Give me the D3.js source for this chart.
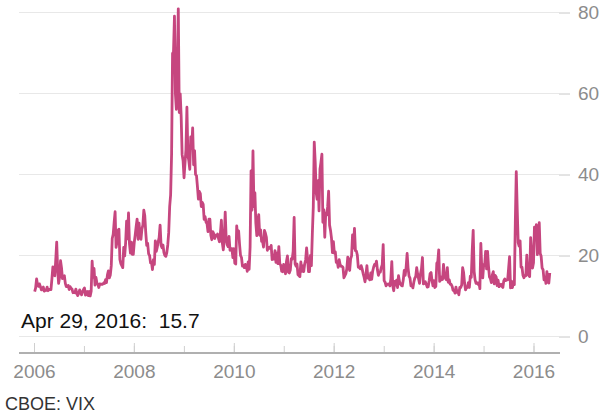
<!DOCTYPE html>
<html>
<head>
<meta charset="utf-8">
<script src="https://cdn.jsdelivr.net/npm/d3@7"></script>
<style>
  body { margin: 0; background: #fff; }
  svg text { font-family: "Liberation Sans", Arial, sans-serif; }
</style>
</head>
<body>
<div id="cont"></div>
<script>
// weekly VIX closes (Fridays)
var vix2006 = [11.1, 12.0, 14.2, 12.7, 12.4, 13.0, 12.3, 11.5, 11.9, 12.2, 11.2, 11.4, 11.4,
  12.2, 11.3, 11.6, 11.6, 11.6, 14.2, 17.2, 15.2, 15.0, 18.9, 23.3, 16.4, 13.1,
  14.6, 18.7, 17.0, 14.3, 14.8, 15.0, 13.1, 12.3, 12.3, 12.6, 11.6, 12.3, 11.9,
  11.7, 10.8, 10.9, 10.8, 11.7, 10.6, 10.1, 10.7, 11.5, 10.8, 10.3, 11.1, 11.6];
var vix2007 = [12.0, 10.2, 10.4, 11.1, 10.1, 11.1, 10.0, 11.2, 18.6, 14.6, 16.8, 12.7, 14.6,
  13.2, 12.9, 12.1, 13.0, 12.9, 12.9, 12.9, 13.2, 13.1, 14.0, 13.3, 15.2, 16.2,
  14.5, 15.2, 17.5, 24.2, 25.2, 28.2, 30.8, 22.0, 23.4, 26.2, 26.5, 19.0, 18.0,
  17.5, 17.0, 22.0, 19.9, 23.2, 28.5, 24.1, 30.5, 22.9, 20.6, 23.3, 20.3, 20.3];
var vix2008 = [23.2, 25.1, 27.2, 29.0, 24.0, 28.0, 25.0, 24.0, 26.5, 27.5, 31.2, 29.8, 25.7,
  22.5, 23.0, 20.4, 20.0, 18.2, 18.4, 16.5, 19.0, 17.8, 23.6, 21.0, 22.0, 23.4,
  24.4, 27.5, 22.5, 21.9, 22.6, 20.7, 20.0, 19.8, 20.7, 22.6, 25.7, 32.1, 35.0,
  45.1, 69.9, 70.3, 79.1, 59.9, 56.1, 66.3, 80.9, 55.3, 59.9, 54.3, 44.9, 43.4];
var vix2009 = [39.2, 42.8, 46.1, 56.6, 44.8, 43.4, 41.3, 49.3, 46.4, 51.5, 42.4, 45.9, 40.0,
  39.7, 37.0, 33.9, 35.8, 35.3, 32.1, 33.1, 32.6, 28.9, 29.6, 28.2, 27.9, 25.9,
  29.0, 29.0, 25.0, 23.9, 25.9, 25.4, 24.2, 25.0, 24.8, 25.3, 24.2, 23.4, 25.6,
  28.7, 23.1, 21.4, 24.1, 30.7, 24.2, 22.7, 22.2, 24.7, 21.3, 21.6, 21.7, 19.5];
var vix2010 = [21.7, 18.1, 17.9, 27.3, 24.6, 26.1, 22.7, 20.0, 19.5, 17.4, 17.6, 17.0, 17.8,
  17.5, 16.1, 18.4, 16.6, 22.1, 40.9, 31.2, 45.8, 32.1, 35.5, 28.0, 24.9, 28.5,
  30.1, 25.0, 26.3, 23.5, 23.5, 22.1, 26.2, 25.5, 24.5, 21.3, 22.0, 22.0, 21.7,
  22.5, 19.0, 19.1, 19.1, 21.2, 18.3, 20.6, 18.0, 22.2, 18.0, 17.6, 16.1, 16.0, 17.8];
var vix2011 = [17.1, 15.5, 18.5, 19.9, 15.9, 15.7, 16.4, 19.2, 19.1, 21.1, 29.4, 17.9,
  17.4, 17.9, 15.3, 15.0, 14.8, 18.4, 16.1, 17.4, 16.0, 17.9, 18.9, 21.9, 19.3,
  16.0, 16.0, 20.0, 17.5, 25.3, 32.0, 48.0, 43.1, 35.6, 33.9, 38.5, 31.0, 41.3, 43.0,
  45.0, 28.2, 31.3, 24.5, 30.5, 30.0, 32.0, 35.9, 27.5, 26.2, 24.3, 20.7, 23.4];
var vix2012 = [20.6, 20.9, 18.3, 18.5, 17.1, 19.0, 17.8, 17.3, 17.3, 17.1, 14.5, 15.0, 15.5,
  16.7, 19.6, 17.4, 16.3, 19.2, 19.9, 25.1, 21.8, 26.7, 21.2, 21.1, 20.1, 17.1,
  17.1, 16.7, 17.5, 16.7, 15.6, 14.7, 13.5, 15.2, 17.5, 14.4, 14.5, 14.0, 15.7,
  14.1, 16.1, 17.1, 17.8, 17.6, 18.6, 16.4, 15.1, 15.9, 15.9, 17.0, 17.7, 22.7];
var vix2013 = [13.8, 13.4, 12.5, 12.9, 12.9, 13.0, 12.5, 14.2, 18.5, 12.6, 11.3, 13.6, 12.7,
  13.9, 12.1, 15.0, 13.6, 12.9, 12.6, 12.5, 14.0, 16.3, 15.1, 17.2, 20.5, 16.9,
  14.9, 14.4, 12.5, 12.7, 12.0, 13.4, 14.4, 14.8, 17.0, 15.4, 14.2, 13.1, 15.5,
  16.7, 19.5, 13.0, 13.1, 13.5, 12.9, 12.2, 12.3, 13.7, 15.5, 15.8, 13.8, 12.5];
var vix2014 = [13.8, 12.1, 12.4, 18.1, 18.4, 21.4, 13.6, 14.7, 14.0, 14.1, 17.8, 15.0, 14.4,
  14.0, 17.0, 13.4, 14.0, 12.9, 12.9, 12.4, 11.4, 11.4, 10.7, 12.2, 10.9, 11.3,
  10.3, 12.1, 12.1, 12.7, 17.0, 15.8, 13.2, 11.5, 12.1, 12.1, 13.3, 12.1, 14.9,
  14.6, 21.2, 26.2, 16.1, 14.0, 13.1, 13.3, 12.9, 13.3, 11.8, 23.0, 16.5, 14.5];
var vix2015 = [17.8, 17.6, 21.0, 16.7, 21.0, 17.3, 14.7, 14.3, 13.3, 15.2, 16.0, 13.0, 15.1,
  14.7, 12.6, 13.9, 12.3, 12.7, 12.9, 12.4, 12.1, 13.8, 14.2, 13.8, 14.0, 14.0,
  16.8, 19.7, 12.0, 13.7, 12.1, 13.4, 12.8, 28.0, 40.7, 31.4, 23.2, 22.3, 23.6,
  17.1, 17.1, 15.1, 14.5, 15.1, 15.0, 20.1, 15.5, 15.1, 14.8, 24.4, 20.7, 16.9];
var vix2016 = [18.2, 27.0, 24.4, 27.6, 20.2, 23.4, 28.1, 20.5, 19.8, 16.9, 16.5, 14.0, 14.7,
  13.1, 16.0, 13.6, 13.2, 15.7];

var years = [2006, 2007, 2008, 2009, 2010, 2011, 2012, 2013, 2014, 2015, 2016];
var series = [vix2006, vix2007, vix2008, vix2009, vix2010, vix2011, vix2012, vix2013, vix2014, vix2015, vix2016];
var yTicks = [0, 20, 40, 60, 80];
var source = "CBOE: VIX";

var data = [];
for (var i = 0; i < years.length; i++) {
  var fridays = d3.timeFriday.range(new Date(years[i], 0, 1), new Date(years[i] + 1, 0, 1));
  for (var j = 0; j < series[i].length && j < fridays.length; j++) {
    data.push({ date: fridays[j], value: series[i][j] });
  }
}

var width = 603, height = 416;

var svg = d3.select("#cont")
  .append("svg")
  .attr("width", width)
  .attr("height", height);

var x = d3.scaleTime()
  .domain([new Date(2006, 0, 1), new Date(2016, 0, 1)])
  .range([34, 533.5]);

var y = d3.scaleLinear()
  .domain([0, 80])
  .range([336.5, 12.5]);

var gridLeft = 19, gridRight = 559;

// horizontal grid + right axis
var yAxis = svg.append("g")
  .attr("transform", "translate(" + gridRight + ",0)")
  .call(d3.axisRight(y).tickValues(yTicks).tickSize(11).tickPadding(8));
yAxis.select(".domain").remove();
yAxis.selectAll(".tick line").attr("stroke", "#c8c8c8");
yAxis.selectAll(".tick text")
  .attr("fill", "#8c8c8c")
  .style("font-size", "19px")
  .style("font-family", "Liberation Sans, Arial, sans-serif");

svg.append("g")
  .selectAll("line")
  .data(yTicks)
  .enter()
  .append("line")
  .attr("x1", gridLeft)
  .attr("x2", gridRight)
  .attr("y1", function(d) { return y(d); })
  .attr("y2", function(d) { return y(d); })
  .attr("stroke", "#e8e8e8")
  .attr("stroke-width", 1);

// bottom axis: minor ticks every year, labels every two
var minor = svg.append("g")
  .attr("transform", "translate(0,353)")
  .call(d3.axisBottom(x).ticks(d3.timeYear.every(1)).tickSize(-7).tickFormat(""));
minor.select(".domain").remove();
minor.selectAll(".tick line").attr("stroke", "#cfcfcf");

var major = svg.append("g")
  .attr("transform", "translate(0,353)")
  .call(d3.axisBottom(x).ticks(d3.timeYear.every(2)).tickSize(-10).tickPadding(6).tickFormat(d3.timeFormat("%Y")));
major.select(".domain").remove();
major.selectAll(".tick line").attr("stroke", "#cfcfcf");
major.selectAll(".tick text")
  .attr("fill", "#8c8c8c")
  .attr("dy", "1em")
  .style("font-size", "19px")
  .style("font-family", "Liberation Sans, Arial, sans-serif");

svg.append("line")
  .attr("x1", gridLeft)
  .attr("x2", gridRight + 1)
  .attr("y1", 353)
  .attr("y2", 353)
  .attr("stroke", "#b0b0b0")
  .attr("stroke-width", 2);

// the series
var line = d3.line()
  .x(function(d) { return x(d.date); })
  .y(function(d) { return y(d.value); });

svg.append("path")
  .datum(data)
  .attr("d", line)
  .attr("fill", "none")
  .attr("stroke", "#c6467f")
  .attr("stroke-width", 2.8)
  .attr("stroke-linejoin", "round");

// last value label
var last = data[data.length - 1];
svg.append("text")
  .attr("x", 21)
  .attr("y", 328)
  .attr("fill", "#111")
  .style("font-size", "21px")
  .style("white-space", "pre")
  .text(d3.timeFormat("%b %-d, %Y")(last.date) + ":  " + last.value.toFixed(1));

svg.append("text")
  .attr("x", 5)
  .attr("y", 410)
  .attr("fill", "#333")
  .style("font-size", "18px")
  .text(source);
</script>
</body>
</html>
